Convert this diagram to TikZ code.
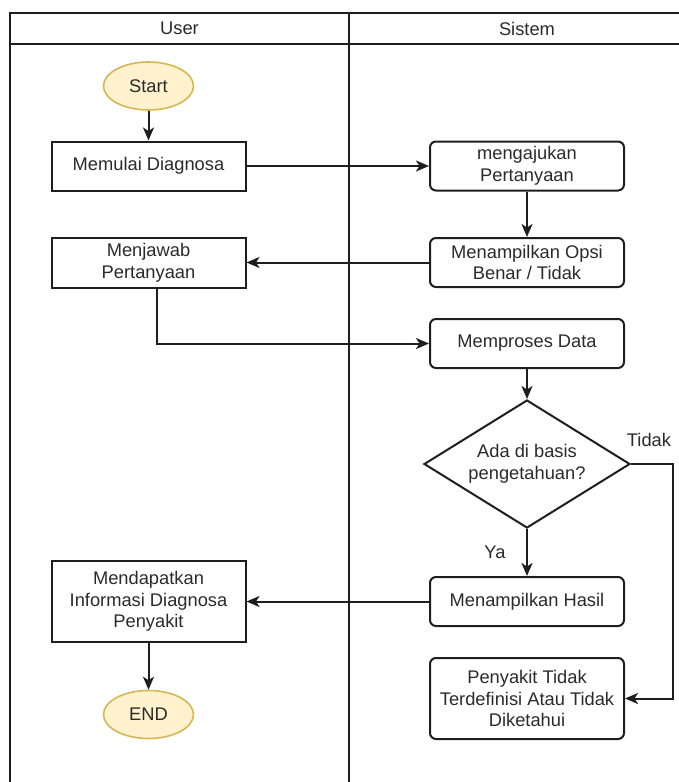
\documentclass[tikz,border=0pt]{standalone}
\usepackage{fontspec}
\setmainfont{Liberation Sans}
\usetikzlibrary{shapes.geometric,arrows.meta}
\definecolor{txt}{HTML}{2A2A2A}
\definecolor{termfill}{HTML}{FFF2CC}
\definecolor{termdraw}{HTML}{D6B656}
\definecolor{ln}{HTML}{1E1E1E}
\tikzset{
  base/.style={font=\fontsize{18.3}{21.5}\selectfont, text=txt, align=center, line width=2pt, draw=ln, inner sep=2pt},
  term/.style={base, ellipse, fill=termfill, draw=termdraw, line width=1.6pt, minimum width=90pt, minimum height=48pt},
  userbox/.style={base, rectangle, minimum width=194pt},
  sysbox/.style={base, rectangle, rounded corners=6pt, minimum width=194pt},
  decis/.style={base, diamond, minimum width=206pt, minimum height=128pt, inner sep=0pt},
  conn/.style={line width=2pt, draw=ln, -{Stealth[length=13pt,width=11pt,inset=3.5pt]}},
  lane/.style={line width=2pt, draw=ln},
  lbl/.style={font=\fontsize{18.3}{21.5}\selectfont, text=txt, align=center}
}
\begin{document}
\begin{tikzpicture}[x=1pt,y=-1pt]
\useasboundingbox (0,0) rectangle (678,782);
% swimlanes
\draw[lane] (10,800) -- (10,13) -- (720,13);
\draw[lane] (10,44) -- (720,44);
\draw[lane] (349,13) -- (349,800);
\node[lbl] (hu) at (179.5,28.5) {User};
\node[lbl] (hs) at (527,28.5) {Sistem};
% nodes
\node[term] (start) at (148.5,86) {Start};
\node[userbox, minimum height=49pt] (mul) at (148.5,166) {Memulai Diagnosa};
\node[userbox, minimum height=50pt] (jaw) at (148.5,263) {Menjawab\\Pertanyaan};
\node[userbox, minimum height=81pt] (dapat) at (148.5,601.5) {Mendapatkan\\Informasi Diagnosa\\Penyakit};
\node[term] (end) at (148.5,714.5) {END};
\node[sysbox, minimum height=49pt] (aju) at (527,166) {mengajukan\\Pertanyaan};
\node[sysbox, minimum height=49pt] (opsi) at (527,262.5) {Menampilkan Opsi\\Benar / Tidak};
\node[sysbox, minimum height=49pt] (proses) at (527,343.5) {Memproses Data};
\node[decis] (dia) at (527,464) {};
\node[lbl] (diat) at (527,464) {Ada di basis\\pengetahuan?};
\node[sysbox, minimum height=49pt] (hasil) at (527,601.5) {Menampilkan Hasil};
\node[sysbox, minimum height=81pt] (peny) at (527,698.5) {Penyakit Tidak\\Terdefinisi Atau Tidak\\Diketahui};
\coordinate (tc) at (673,464);
% connectors
\draw[conn] (start) -- (mul);
\draw[conn] (mul) -- (aju);
\draw[conn] (aju) -- (opsi);
\draw[conn] (opsi.west) -- (jaw.east |- opsi.west);
\draw[conn] ([xshift=8.5pt]jaw.south) |- (proses.west);
\draw[conn] (proses) -- (dia);
\draw[conn] (dia) -- (hasil);
\draw[conn] (dia.east) -- (tc) |- (peny.east);
\draw[conn] (hasil) -- (dapat);
\draw[conn] (dapat) -- (end);
\node[lbl] (ya) at (495,552) {Ya};
\node[lbl] (td) at (649,440) {Tidak};
\end{tikzpicture}
\end{document}
